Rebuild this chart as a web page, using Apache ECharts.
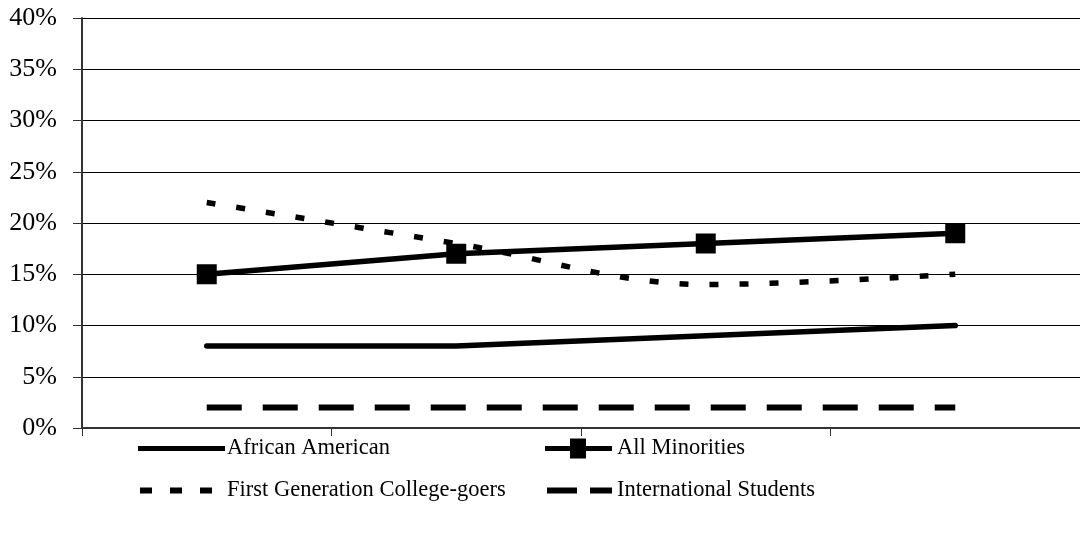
<!DOCTYPE html>
<html>
<head>
<meta charset="utf-8">
<script src="https://cdn.jsdelivr.net/npm/echarts@6/dist/echarts.min.js"></script>
<style>
  html, body { margin: 0; padding: 0; background: #fff; }
  #chart { width: 1080px; height: 533px; }
</style>
</head>
<body>
<div id="chart"></div>
<script>
// Four survey periods (unlabelled on the axis)
const categories = ['1', '2', '3', '4'];

// Share of enrolled students, in percent
const africanAmerican = [8, 8, 9, 10];
const allMinorities = [15, 17, 18, 19];
const firstGeneration = [22, 18, 14, 15];
const international = [2, 2, 2, 2];

// Y axis runs 0%..40% in 5% steps
const yMin = 0, yMax = 40, yStep = 5;

const serif = '"Liberation Serif", "Times New Roman", serif';

// Legend keys drawn as paths; the zero-size sub-paths pin the box corners
function keyBox(w, h) {
  return 'M0,0 L0,0 Z M' + w + ',' + h + ' L' + w + ',' + h + ' Z ';
}
const keySolidLong = 'path://' + keyBox(87, 20) + 'M0,7.5 L87,7.5 L87,12.5 L0,12.5 Z';
const keyDotted = 'path://' + keyBox(87, 20) +
  'M2,7 L14,7 L14,13 L2,13 Z M32,7 L44,7 L44,13 L32,13 Z M62,7 L74,7 L74,13 L62,13 Z';
const keySquareLine = 'path://' + keyBox(67, 20) +
  'M0,7.5 L67,7.5 L67,12.5 L0,12.5 Z M25,0 L41,0 L41,20 L25,20 Z';
const keyDashed = 'path://' + keyBox(67, 20) +
  'M2,7 L32,7 L32,13 L2,13 Z M45,7 L67,7 L67,13 L45,13 Z';

function legendText(shift) {
  return { fontFamily: serif, fontSize: 22.5, color: '#000', lineHeight: 20, padding: [0, 0, 0, shift] };
}

const chart = echarts.init(document.getElementById('chart'), null, { renderer: 'canvas' });

chart.setOption({
  animation: false,
  backgroundColor: '#ffffff',
  grid: { left: 82, right: -3, top: 18, bottom: 105, containLabel: false },
  xAxis: {
    type: 'category',
    data: categories,
    boundaryGap: true,
    axisLine: { show: true, lineStyle: { color: '#333', width: 2 } },
    axisTick: { show: true, length: 8, lineStyle: { color: '#333', width: 1 } },
    axisLabel: { show: false },
    splitLine: { show: false }
  },
  yAxis: {
    type: 'value',
    min: yMin,
    max: yMax,
    interval: yStep,
    axisLine: { show: true, lineStyle: { color: '#333', width: 2 } },
    axisTick: { show: true, length: 9, lineStyle: { color: '#333', width: 1 } },
    axisLabel: {
      formatter: v => v + '%',
      fontFamily: serif,
      fontSize: 26,
      color: '#000',
      margin: 25
    },
    splitLine: { show: true, lineStyle: { color: '#000', width: 1 } }
  },
  legend: [
    {
      orient: 'vertical',
      left: 138,
      top: 437,
      padding: 0,
      itemWidth: 87,
      itemHeight: 20,
      itemGap: 19,
      symbolKeepAspect: false,
      itemStyle: { color: '#000', borderWidth: 0 },
      lineStyle: { width: 0 },
      textStyle: legendText(-3),
      data: [
        { name: 'African American', icon: keySolidLong },
        { name: 'First Generation College-goers', icon: keyDotted }
      ]
    },
    {
      orient: 'vertical',
      left: 545,
      top: 437,
      padding: 0,
      itemWidth: 67,
      itemHeight: 20,
      itemGap: 19,
      symbolKeepAspect: false,
      itemStyle: { color: '#000', borderWidth: 0 },
      lineStyle: { width: 0 },
      textStyle: legendText(0),
      data: [
        { name: 'All Minorities', icon: keySquareLine },
        { name: 'International Students', icon: keyDashed }
      ]
    }
  ],
  series: [
    {
      name: 'African American',
      type: 'line',
      data: africanAmerican,
      symbol: 'none',
      lineStyle: { color: '#000', width: 5.5, cap: 'round', join: 'round' },
      itemStyle: { color: '#000' }
    },
    {
      name: 'All Minorities',
      type: 'line',
      data: allMinorities,
      symbol: 'rect',
      symbolSize: 20,
      lineStyle: { color: '#000', width: 5.5, cap: 'round', join: 'round' },
      itemStyle: { color: '#000', borderWidth: 0 }
    },
    {
      name: 'First Generation College-goers',
      type: 'line',
      data: firstGeneration,
      symbol: 'none',
      smooth: 0.35,
      lineStyle: { color: '#000', width: 5.5, type: [9, 21], cap: 'butt' },
      itemStyle: { color: '#000' }
    },
    {
      name: 'International Students',
      type: 'line',
      data: international,
      symbol: 'none',
      lineStyle: { color: '#000', width: 6, type: [35, 21], cap: 'butt' },
      itemStyle: { color: '#000' }
    }
  ]
});
</script>
</body>
</html>
